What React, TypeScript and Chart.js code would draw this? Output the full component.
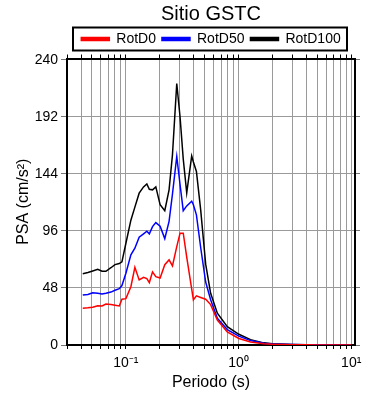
import React, { useEffect, useRef } from 'react';
import { Chart, registerables } from 'chart.js';

Chart.register(...registerables);

// ---- data ----
const periods = [
  0.0414, 0.046, 0.0507, 0.0562, 0.0614, 0.0665, 0.0736, 0.08, 0.0873, 0.0922,
  0.1, 0.1107, 0.1201, 0.1311, 0.1434, 0.1534, 0.1614, 0.1723, 0.1843, 0.2012,
  0.2213, 0.2416, 0.259, 0.2827, 0.3023, 0.3228, 0.3466, 0.3837, 0.3972, 0.4225,
  0.461, 0.5105, 0.565, 0.648, 0.794, 1.006, 1.277, 1.675, 2.0, 3.0,
  4.0, 5.0, 7.0, 10.0,
];
const rotD100 = [
  60, 61, 62.3, 63.7, 62, 62, 65, 67.6, 68.5, 70,
  85.6, 105, 116, 127.7, 133, 135.5, 131, 130.5, 133, 118,
  113, 130.5, 160, 220, 192, 156.5, 128, 159, 154, 146,
  113.7, 68, 43.5, 26.7, 15.4, 9, 4.5, 1.8, 1.1, 0.5,
  0.3, 0.2, 0.1, 0.05,
];
const rotD50 = [
  42, 42.5, 44, 43.5, 43, 43.5, 44.5, 46, 47.4, 50,
  60.4, 75.8, 81.4, 90.7, 93.5, 95.7, 93.5, 99.6, 103, 100,
  89.5, 104, 127, 158.6, 135, 113, 117, 121, 118, 109.5,
  82, 53, 38, 22.5, 13, 7.5, 3.7, 1.4, 0.9, 0.4,
  0.25, 0.15, 0.08, 0.04,
];
const rotD0 = [
  31, 31.3, 31.7, 33, 32.8, 34.5, 34, 33.5, 32.8, 38.5,
  39, 49, 65.4, 54.7, 57, 55.8, 52.5, 61.5, 57.5, 56.4,
  67.6, 71.6, 66.5, 82.8, 94, 94, 74, 47, 38, 41.3,
  40, 38.5, 34, 21, 11, 5.5, 2.5, 1.0, 0.6, 0.25,
  0.15, 0.1, 0.05, 0.03,
];
const seriesNames = ['RotD0', 'RotD50', 'RotD100'];
const seriesColors = ['#ff0000', '#0000ff', '#000000'];
const yTickValues = [0, 48, 96, 144, 192, 240];
const X_MIN = 0.03;
const X_MAX = 10.8;
const Y_MIN = 0;
const Y_MAX = 241;

const FONT = "'Liberation Sans', Arial, Helvetica, sans-serif";
const GRID = '#9a9a9a';

const SUP: Record<string, string> = {
  '-': '\u207B', '0': '\u2070', '1': '\u00B9', '2': '\u00B2', '3': '\u00B3',
  '4': '\u2074', '5': '\u2075', '6': '\u2076', '7': '\u2077', '8': '\u2078', '9': '\u2079',
};
const sup = (s: string) => s.split('').map((c) => SUP[c] ?? c).join('');

function logTickList(min: number, max: number) {
  const out: { value: number }[] = [];
  const e0 = Math.floor(Math.log10(min));
  const e1 = Math.ceil(Math.log10(max));
  for (let e = e0; e <= e1; e++) {
    for (let m = 1; m <= 9; m++) {
      const v = Number((m * Math.pow(10, e)).toPrecision(6));
      if (v >= min * 0.9999 && v <= max * 1.0001) out.push({ value: v });
    }
  }
  return out;
}

function logLabel(v: number) {
  const e = Math.round(Math.log10(v));
  if (Math.abs(v - Math.pow(10, e)) < 1e-9 * Math.pow(10, e)) return '10' + sup(String(e));
  return '';
}

const legendFrame = {
  id: 'legendFrame',
  afterDraw(chart: any) {
    const lg = chart.legend;
    if (!lg || !lg.legendHitBoxes || !lg.legendHitBoxes.length) return;
    const ca = chart.chartArea;
    const hb = lg.legendHitBoxes[0];
    const cy = hb.top + hb.height / 2;
    const ctx = chart.ctx;
    ctx.save();
    ctx.lineWidth = 2;
    ctx.strokeStyle = '#000';
    ctx.strokeRect(ca.left + 6, cy - 11.5, ca.right - ca.left - 14, 23);
    ctx.restore();
  },
};

export default function App() {
  const ref = useRef<HTMLCanvasElement | null>(null);

  useEffect(() => {
    if (!ref.current) return;
    const seriesValues = [rotD0, rotD50, rotD100];
    const chart = new Chart(ref.current, {
      type: 'line',
      data: {
        datasets: seriesNames.map((name, k) => ({
          label: name,
          data: periods.map((p, i) => ({ x: p, y: seriesValues[k][i] })),
          borderColor: seriesColors[k],
          backgroundColor: seriesColors[k],
          borderWidth: 1.5,
          pointRadius: 0,
          tension: 0,
          fill: false,
        })),
      },
      options: {
        animation: false,
        responsive: false,
        layout: { padding: 0 },
        plugins: {
          title: {
            display: true,
            text: 'Sitio GSTC',
            fullSize: false,
            color: '#000',
            font: { family: FONT, size: 20, weight: 'normal', lineHeight: 1.2 },
            padding: { top: 2, bottom: 0 },
          },
          legend: {
            display: true,
            fullSize: false,
            labels: {
              color: '#000',
              font: { family: FONT, size: 14 },
              boxWidth: 28,
              boxHeight: 3,
              padding: 6,
            },
          },
          tooltip: { enabled: false },
        },
        scales: {
          x: {
            type: 'logarithmic',
            position: 'bottom',
            min: X_MIN,
            max: X_MAX,
            afterBuildTicks: (s: any) => { s.ticks = logTickList(X_MIN, X_MAX); },
            afterFit: (s: any) => { s.height = 55; },
            ticks: {
              autoSkip: false,
              maxRotation: 0,
              color: '#000',
              font: { family: FONT, size: 14 },
              padding: 6,
              callback: (v: any) => logLabel(Number(v)),
            },
            grid: { color: GRID, lineWidth: 1, tickLength: 4, tickColor: '#000' },
            border: { color: '#000', width: 2 },
            title: {
              display: true,
              text: 'Periodo (s)',
              color: '#000',
              font: { family: FONT, size: 16 },
              padding: { top: 0, bottom: 8 },
            },
          },
          x2: {
            type: 'logarithmic',
            position: 'top',
            min: X_MIN,
            max: X_MAX,
            afterBuildTicks: (s: any) => { s.ticks = logTickList(X_MIN, X_MAX); },
            afterFit: (s: any) => { s.height = 2.5; },
            ticks: { display: false },
            grid: { drawOnChartArea: false, tickLength: 4, tickColor: '#000' },
            border: { color: '#000', width: 2 },
          },
          y: {
            type: 'linear',
            position: 'left',
            min: Y_MIN,
            max: Y_MAX,
            afterBuildTicks: (s: any) => { s.ticks = yTickValues.map((v) => ({ value: v })); },
            afterFit: (s: any) => { s.width = 67; },
            ticks: { color: '#000', font: { family: FONT, size: 14 }, padding: 3 },
            grid: { color: GRID, lineWidth: 1, tickLength: 6, tickColor: '#777' },
            border: { color: '#000', width: 2 },
            title: {
              display: true,
              text: 'PSA (cm/s\u00B2)',
              color: '#000',
              font: { family: FONT, size: 16 },
              padding: { top: 14, bottom: 0 },
            },
          },
          y2: {
            type: 'linear',
            position: 'right',
            min: Y_MIN,
            max: Y_MAX,
            afterBuildTicks: (s: any) => { s.ticks = yTickValues.map((v) => ({ value: v })); },
            afterFit: (s: any) => { s.width = 35; },
            ticks: { display: false },
            grid: { drawOnChartArea: false, tickLength: 5, tickColor: '#777' },
            border: { color: '#000', width: 2 },
          },
        },
      } as any,
      plugins: [legendFrame],
    });
    return () => chart.destroy();
  }, []);

  return (
    <div style={{ position: 'absolute', left: 0, top: 0, width: 390, height: 400, background: '#fff' }}>
      <canvas ref={ref} width={390} height={400} style={{ display: 'block' }} />
    </div>
  );
}
